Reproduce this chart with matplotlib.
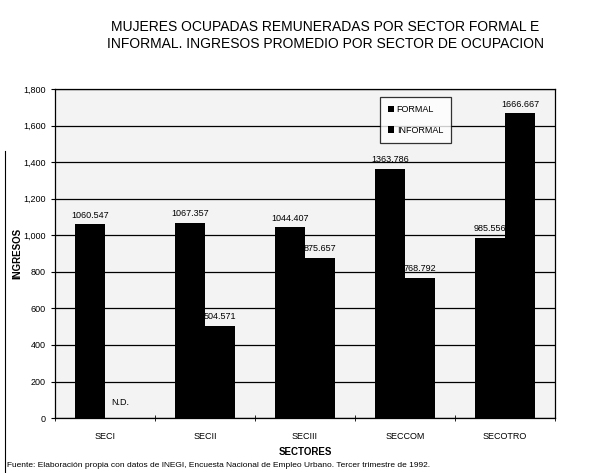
import matplotlib
matplotlib.use("Agg")
import matplotlib.pyplot as plt
import numpy as np

plt.rcParams['font.family'] = ['Liberation Sans Narrow', 'Liberation Sans', 'DejaVu Sans']

categories = ["SECI", "SECII", "SECIII", "SECCOM", "SECOTRO"]
formal = [1060.547, 1067.357, 1044.407, 1363.786, 985.556]
informal = [0, 504.571, 875.657, 768.792, 1666.667]
formal_labels = ["1060.547", "1067.357", "1044.407", "1363.786", "985.556"]
informal_labels = ["N.D.", "504.571", "875.657", "768.792", "1666.667"]
yticks = [0, 200, 400, 600, 800, 1000, 1200, 1400, 1600, 1800]
ytick_labels = ["0", "200", "400", "600", "800", "1,000", "1,200", "1,400", "1,600", "1,800"]

fig = plt.figure(figsize=(6.14, 4.73), dpi=100)
ax = fig.add_axes([0.0896, 0.116, 0.8144, 0.696])
ax.set_facecolor('#f3f3f3')

x = np.arange(len(categories))
w = 0.3
ax.bar(x - w/2, formal, w, color='black', label='FORMAL', zorder=3)
ax.bar(x + w/2, informal, w, color='black', label='INFORMAL', zorder=3)

for xi, v, lab in zip(x, formal, formal_labels):
    ax.text(xi - w/2, v + 25, lab, ha='center', va='bottom', fontsize=6.5, zorder=4)
for xi, v, lab in zip(x, informal, informal_labels):
    if lab == "N.D.":
        ax.text(xi + w/2, 60, lab, ha='center', va='bottom', fontsize=6.5, zorder=4)
    else:
        ax.text(xi + w/2, v + 25, lab, ha='center', va='bottom', fontsize=6.5, zorder=4)

ax.set_xlim(-0.5, len(categories) - 0.5)
ax.set_ylim(0, 1800)
ax.set_yticks(yticks)
ax.set_yticklabels(ytick_labels, fontsize=6.5)
ax.set_xticks(x)
ax.set_xticklabels(categories, fontsize=6.5)
ax.set_xticks(np.arange(len(categories) + 1) - 0.5, minor=True)
ax.tick_params(axis='x', which='major', length=0, pad=10)
ax.tick_params(axis='x', which='minor', length=4, direction='inout')
ax.tick_params(axis='y', length=3)
ax.grid(axis='y', color='black', linewidth=0.9, zorder=1)
ax.set_axisbelow(True)
for s in ax.spines.values():
    s.set_linewidth(0.9)

ax.set_ylabel("INGRESOS", fontsize=7, fontweight='bold')
ax.yaxis.set_label_coords(-0.066, 0.5)
ax.set_xlabel("SECTORES", fontsize=7, fontweight='bold')
ax.xaxis.set_label_coords(0.5, -0.088)

leg = ax.legend(loc='upper left', bbox_to_anchor=(0.64, 0.99), fontsize=6.5,
                frameon=True, fancybox=False, edgecolor='black', handlelength=0.7,
                handleheight=0.7, labelspacing=1.3, borderpad=0.9, handletextpad=0.3)
leg.get_frame().set_linewidth(0.9)

fig.text(0.53, 0.925, "MUJERES OCUPADAS REMUNERADAS POR SECTOR FORMAL E\nINFORMAL. INGRESOS PROMEDIO POR SECTOR DE OCUPACION",
         ha='center', va='center', fontsize=10, linespacing=1.3)
fig.text(0.012, 0.016, "Fuente: Elaboración propia con datos de INEGI, Encuesta Nacional de Empleo Urbano. Tercer trimestre de 1992.",
         ha='left', va='center', fontsize=6)

fig.add_artist(plt.Line2D([0.008, 0.008], [0.0, 0.68], color='black', linewidth=0.8, transform=fig.transFigure))

fig.savefig("out.png", dpi=100)
